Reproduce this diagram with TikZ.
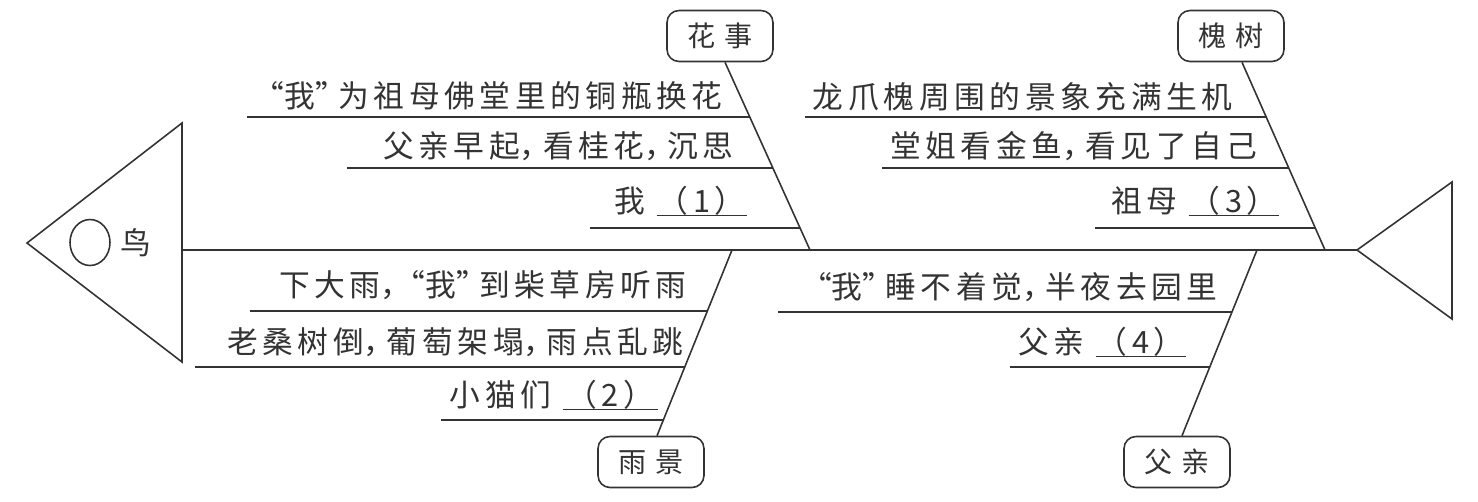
\documentclass[tikz,border=0pt]{standalone}
\usepackage{fontspec}
\setmainfont[LetterSpace=15]{Noto Sans CJK SC}
\usetikzlibrary{shapes.geometric}
\definecolor{ink}{HTML}{333333}
\newcommand\dou{\makebox[0.75em][l]{，}}
\newcommand\zuoyin{\makebox[0.7em][r]{“}}
\newcommand\youyin{\makebox[0.75em][l]{”}}
\newcommand\blank[2][1.8cm]{\rlap{\rule[-2.3pt]{#1}{0.7pt}}\makebox[#1]{#2}}
\tikzset{
  line/.style={draw=ink, line width=0.9pt},
  tag/.style={draw=ink, line width=0.9pt, rounded corners=0.24cm, minimum width=2.12cm,
    minimum height=1.02cm, inner sep=0pt, text=ink, font=\fontsize{16pt}{18pt}\selectfont},
  row/.style={anchor=base east, inner sep=0pt, text=ink, font=\fontsize{17.5pt}{20pt}\selectfont},
}
\begin{document}
\begin{tikzpicture}[x=0.02cm, y=-0.02cm]
  \useasboundingbox (0,0) rectangle (1478,501);

  \draw[line] (27,243) -- (182,123) -- (182,362) -- cycle;
  \node[draw=ink, line width=0.9pt, ellipse, minimum width=0.8cm, minimum height=0.92cm] (eye) at (90,242.5) {};
  \node[text=ink, font=\fontsize{17.5pt}{20pt}\selectfont] (niao) at (136,243) {鸟};

  \draw[line] (182,250) -- (1357,250);
  \draw[line] (1357,250) -- (1452,182) -- (1452,319) -- cycle;

  \coordinate (s1) at (810,250);
  \coordinate (s2) at (1325,250);
  \coordinate (s3) at (732,250);
  \coordinate (s4) at (1257,250);

  \node[tag] (hua) at (720,36) {花\hspace{0.3em}事};
  \node[tag] (huai) at (1231,36) {槐\hspace{0.3em}树};
  \node[tag] (yu) at (651,462) {雨\hspace{0.3em}景};
  \node[tag] (fu) at (1177,462) {父\hspace{0.3em}亲};

  \draw[line] ([xshift=0.1cm]hua.south) -- (s1);
  \draw[line] ([xshift=0.22cm]huai.south) -- (s2);
  \draw[line] (s3) -- ([xshift=0.12cm]yu.north);
  \draw[line] (s4) -- ([xshift=0.1cm]fu.north);

  \draw[line] (247,117) -- (750,117);
  \draw[line] (347,168) -- (773,168);
  \draw[line] (590,228) -- (800,228);
  \node[row] (r1) at (723,107) {\zuoyin 我\youyin 为祖母佛堂里的铜瓶换花};
  \node[row] (r2) at (734,157) {父亲早起\dou 看桂花\dou 沉思};
  \node[row] (r3) at (747,212) {我 \blank{（1）}};

  \draw[line] (805,117) -- (1266.6,117);
  \draw[line] (882,168) -- (1289,168);
  \draw[line] (1095,228) -- (1315.3,228);
  \node[row] (r4) at (1233,108) {龙爪槐周围的景象充满生机};
  \node[row] (r5) at (1258,157) {堂姐看金鱼\dou 看见了自己};
  \node[row] (r6) at (1279,212) {祖母 \blank{（3）}};

  \draw[line] (250,311) -- (707.5,311);
  \draw[line] (195,367) -- (685.1,367);
  \draw[line] (441,420) -- (663.8,420);
  \node[row] (r7) at (687,296) {下大雨\dou\zuoyin 我\youyin 到柴草房听雨};
  \node[row] (r8) at (684,353) {老桑树倒\dou 葡萄架塌\dou 雨点乱跳};
  \node[row] (r9) at (658,406) {小猫们 \blank[1.9cm]{（2）}};

  \draw[line] (778,312) -- (1232.1,312);
  \draw[line] (1010,367) -- (1210.1,367);
  \node[row] (r10) at (1218,298) {\zuoyin 我\youyin 睡不着觉\dou 半夜去园里};
  \node[row] (r11) at (1186,353) {父亲 \blank{（4）}};
\end{tikzpicture}
\end{document}
